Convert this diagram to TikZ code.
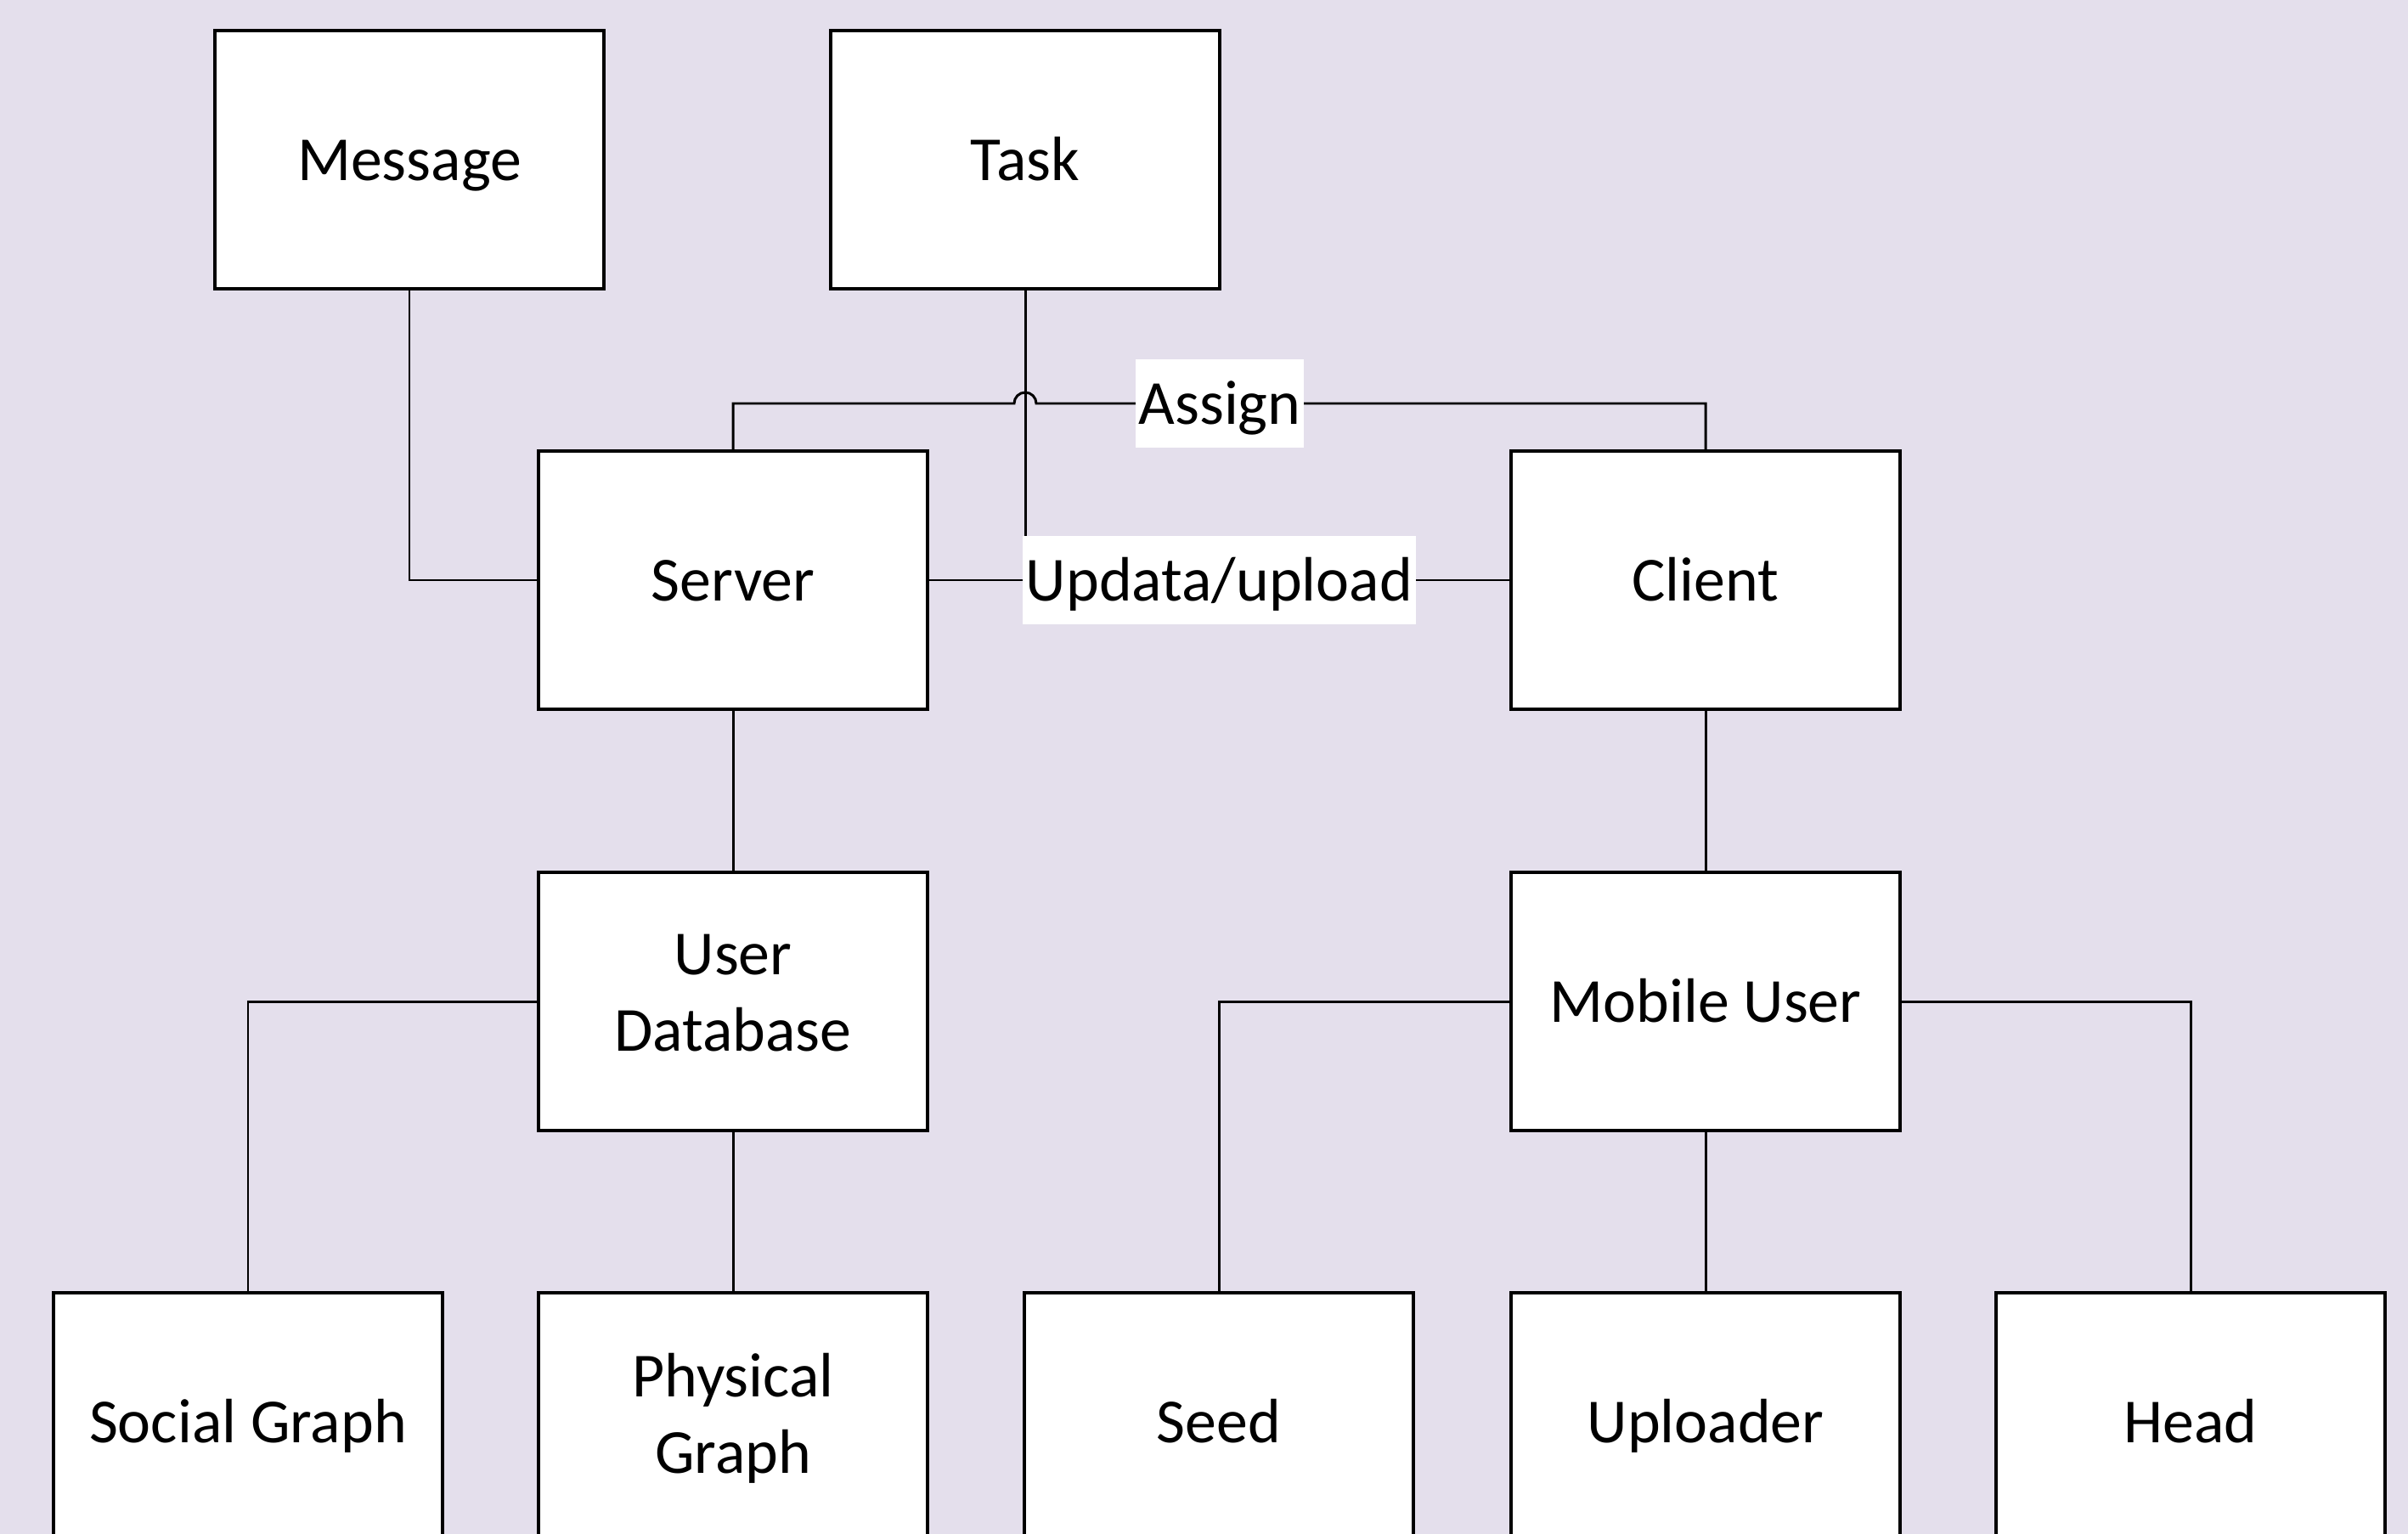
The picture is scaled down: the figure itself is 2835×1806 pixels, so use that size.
\documentclass[tikz,border=0pt]{standalone}
\usepackage{fontspec}
\setmainfont{Carlito}
\definecolor{bgpurple}{HTML}{E4DFEC}
\newcommand{\boxstrut}{\rule[-5.7pt]{0pt}{25.6pt}}
\begin{document}
\begin{tikzpicture}[x=0.01cm, y=-0.01cm,
    box/.style={draw, line width=1pt, fill=white, minimum width=4.58cm, minimum height=3.04cm,
        align=center, font=\fontsize{21}{25.6}\selectfont,
        execute at begin node=\boxstrut, execute at end node=\boxstrut},
    lbl/.style={fill=white, inner xsep=1pt, inner ysep=2pt, font=\fontsize{21}{25.6}\selectfont,
        execute at begin node=\boxstrut},
    link/.style={line width=0.85pt}]
    \fill[bgpurple] (0,0) rectangle (2835,1806);
    \useasboundingbox (0,0) rectangle (2835,1806);
    \clip (0,0) rectangle (2835,1806);
    % top row
    \node[box] (message) at (482,188) {Message};
    \node[box] (task) at (1207,188) {Task};
    % second row
    \node[box] (server) at (863,683) {Server};
    \node[box] (client) at (2008,683) {Client};
    % third row
    \node[box] (userdb) at (863,1179) {User\\Database};
    \node[box] (mobile) at (2008,1179) {Mobile User};
    % bottom row
    \node[box] (social) at (292,1674) {Social Graph};
    \node[box] (physical) at (863,1674) {Physical\\Graph};
    \node[box] (seed) at (1435,1674) {Seed};
    \node[box] (uploader) at (2008,1674) {Uploader};
    \node[box] (head) at (2579,1674) {Head};
    % connectors
    \coordinate (assignrow) at (0,475);
    \draw[link] (message.south) |- (server.west);
    \draw[link] (task.south) -- (task.south |- server.west);
    \draw[link] (server.north) -- (server.north |- assignrow)
        -- ([xshift=-0.13cm]task.south |- assignrow)
        arc[start angle=180, end angle=0, radius=0.13cm]
        -- (client.north |- assignrow) -- (client.north);
    \draw[link] (server.east) -- node[lbl] {Updata/upload} (client.west);
    \node[lbl] (assign) at (1436,475) {Assign};
    \draw[link] (server) -- (userdb);
    \draw[link] (client) -- (mobile);
    \draw[link] (userdb.west) -| (social.north);
    \draw[link] (userdb) -- (physical);
    \draw[link] (mobile.west) -| (seed.north);
    \draw[link] (mobile) -- (uploader);
    \draw[link] (mobile.east) -| (head.north);
\end{tikzpicture}
\end{document}
